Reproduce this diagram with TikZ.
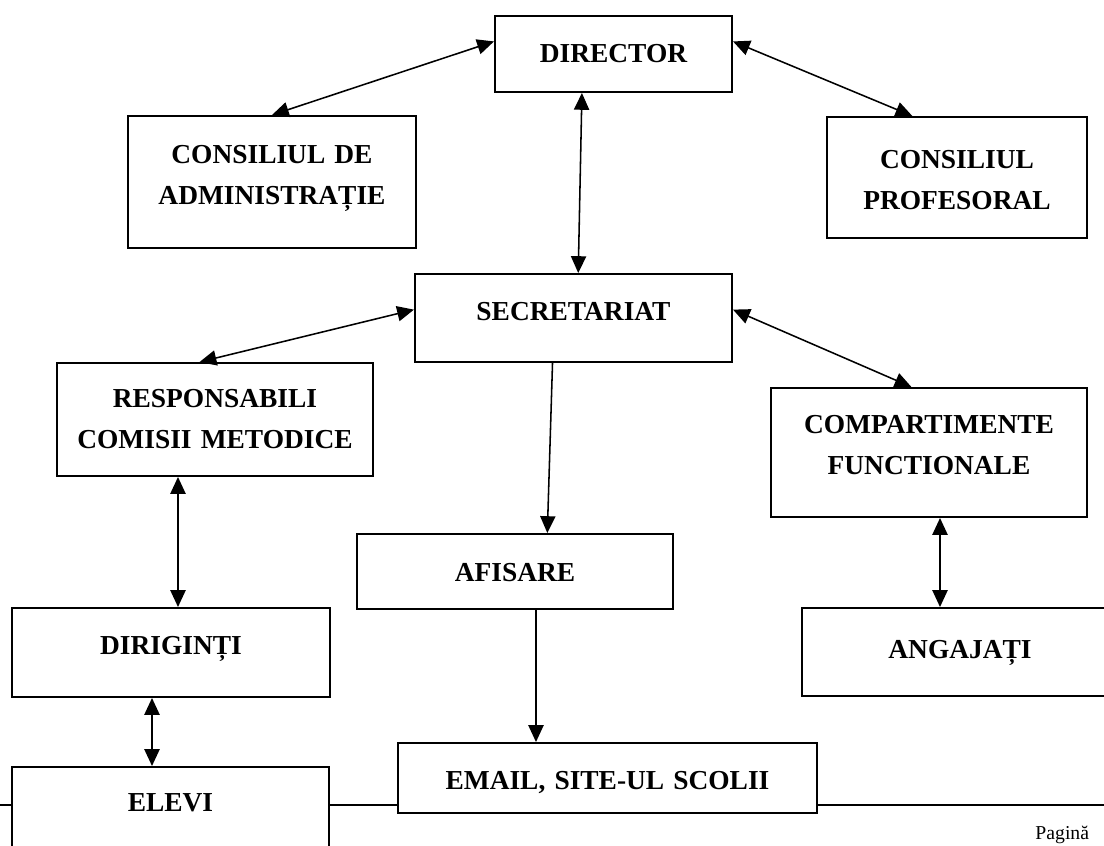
\documentclass[tikz,border=0pt]{standalone}
\usepackage{fontspec}
\setmainfont{Liberation Serif}
\usepackage{tikz}
\usetikzlibrary{arrows.meta}

\newcommand{\boxfont}{\bfseries\fontsize{19.5}{29}\selectfont}

\begin{document}
\begin{tikzpicture}[
    x=0.025cm, y=-0.025cm, line width=1.1pt, >={Triangle[length=4.2mm, width=3.8mm]},
    box/.style={draw, line width=1.4pt, fill=white, anchor=north, inner sep=0pt, align=center, font=\boxfont}
]
    \useasboundingbox (0,0) rectangle (1104,846);

    % footer rule of the page
    \draw[line width=1.4pt] (0,805) -- (1104,805);
    \node[font=\fontsize{14}{16}\selectfont, anchor=base west] (page) at (1030,839) {Pagină};

    \node[box, text width=5.925cm, text height=1.175cm, text depth=0.725cm] (dir) at (613.5,15) {DIRECTOR};
    \node[box, text width=7.2cm, text height=1.2cm, text depth=2.1cm] (adm) at (272,115) {CONSILIUL DE\\ADMINISTRAȚIE};
    \node[box, text width=6.5cm, text height=1.3cm, text depth=1.725cm] (prof) at (957,116) {CONSILIUL\\PROFESORAL};
    \node[box, text width=7.925cm, text height=1.175cm, text depth=1.025cm] (sec) at (573.5,273) {SECRETARIAT};
    \node[box, text width=7.9cm, text height=1.125cm, text depth=1.7cm] (resp) at (215,362) {RESPONSABILI\\COMISII METODICE};
    \node[box, text width=7.9cm, text height=1.15cm, text depth=2.075cm] (comp) at (929,387) {COMPARTIMENTE\\FUNCTIONALE};
    \node[box, text width=7.9cm, text height=1.175cm, text depth=0.7cm] (afis) at (515,533) {AFISARE};
    \node[box, text width=7.95cm, text height=1.15cm, text depth=1.075cm] (dirig) at (171,607) {DIRIGINȚI};
    \node[box, text width=7.9cm, text height=1.25cm, text depth=0.95cm] (ang) at (960,607) {ANGAJAȚI};
    \node[box, text width=10.475cm, text height=1.15cm, text depth=0.6cm] (email) at (607.5,742) {EMAIL, SITE-UL SCOLII};
    \node[box, text width=7.925cm, text height=1.1cm, text depth=1.75cm] (elevi) at (170.5,766) {ELEVI};

    % connectors
    \draw[<->] (dir.174) -- (adm.north);
    \draw[<->] (dir.6) -- (prof.126);
    \draw[<->] (dir.231) -- (sec.84);
    \draw[<->] (sec.177) -- (resp.105);
    \draw[<->] (sec.3) -- (comp.105);
    \draw[->] (sec.245) -- (afis.50);
    \draw[->] ([xshift=0.525cm]afis.south) -- ([xshift=-1.7875cm]email.north);
    \draw[<->] ([xshift=-0.925cm]resp.south) -- ([xshift=0.175cm]dirig.north);
    \draw[<->] ([xshift=-0.475cm]dirig.south) -- ([xshift=-0.4625cm]elevi.north);
    \draw[<->] ([xshift=0.275cm]comp.south) -- ([xshift=-0.5cm]ang.north);
\end{tikzpicture}
\end{document}
